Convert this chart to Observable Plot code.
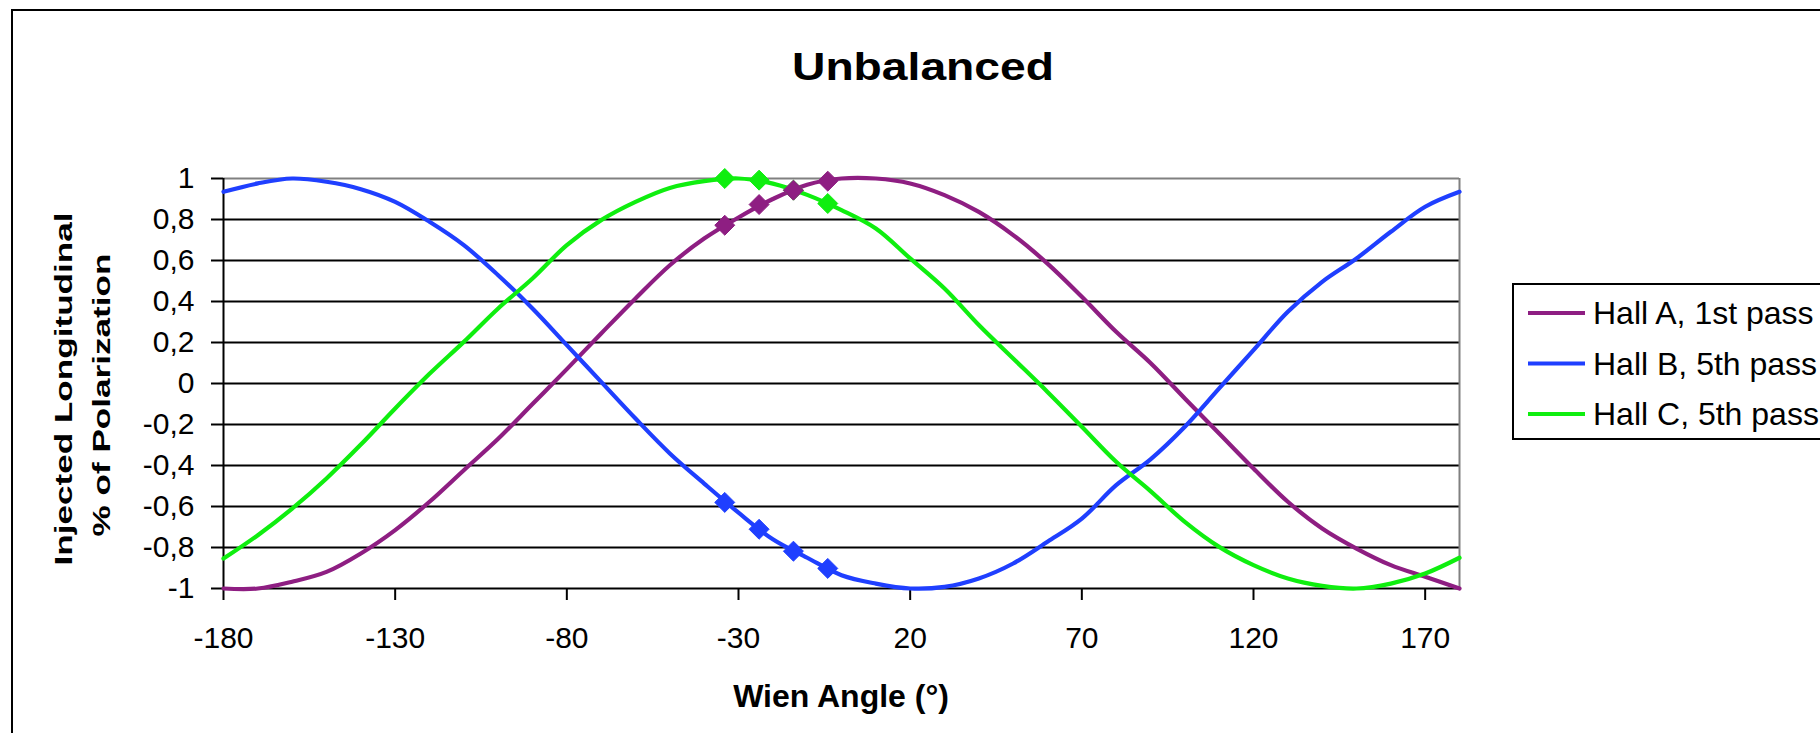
<!DOCTYPE html>
<html>
<head>
<meta charset="utf-8">
<script src="https://cdn.jsdelivr.net/npm/d3@7"></script>
<script src="https://cdn.jsdelivr.net/npm/@observablehq/plot@0.6"></script>
<style>
  html, body { margin: 0; padding: 0; background: #fff; overflow: hidden; }
  #chart svg { display: block; }
</style>
</head>
<body>
<div id="chart"></div>
<script>
// ---- data ----
const angles = [-180,-170,-160,-150,-140,-130,-120,-110,-100,-90,-80,-70,-60,-50,-40,-30,-20,-10,0,10,20,30,40,50,60,70,80,90,100,110,120,130,140,150,160,170,180];
const hallA = [-1.0,-1.0,-0.967,-0.919,-0.829,-0.715,-0.577,-0.423,-0.27,-0.10,0.07,0.244,0.415,0.577,0.707,0.81,0.90,0.97,1.0,1.0,0.976,0.919,0.837,0.724,0.585,0.423,0.252,0.10,-0.073,-0.244,-0.415,-0.577,-0.707,-0.805,-0.886,-0.943,-1.0];
const hallB = [0.935,0.976,1.0,0.984,0.948,0.886,0.789,0.675,0.528,0.366,0.187,0.008,-0.171,-0.341,-0.488,-0.63,-0.76,-0.85,-0.935,-0.976,-1.0,-0.992,-0.951,-0.878,-0.772,-0.659,-0.496,-0.37,-0.211,-0.024,0.163,0.35,0.496,0.61,0.74,0.862,0.935];
const hallC = [-0.854,-0.74,-0.61,-0.463,-0.298,-0.122,0.047,0.203,0.366,0.512,0.675,0.797,0.886,0.954,0.987,1.0,0.975,0.92,0.846,0.756,0.61,0.463,0.285,0.122,-0.041,-0.211,-0.382,-0.525,-0.675,-0.797,-0.886,-0.951,-0.987,-1.0,-0.976,-0.927,-0.85];
const markerAngles = [-34, -24, -14, -4];
const markerA = [0.772, 0.873, 0.943, 0.987];
const markerB = [-0.580, -0.711, -0.818, -0.902];
const markerC = [1.0, 0.992, 0.943, 0.878];
const seriesNames = ["Hall A, 1st pass", "Hall B, 5th pass", "Hall C, 5th pass"];
const xTicks = [-180, -130, -80, -30, 20, 70, 120, 170];
const yTicks = [-1, -0.8, -0.6, -0.4, -0.2, 0, 0.2, 0.4, 0.6, 0.8, 1];
const titleText = "Unbalanced";
const xLabel = "Wien Angle (°)";
const yLabel1 = "Injected Longitudinal";
const yLabel2 = "% of Polarization";

// ---- styles ----
const colors = ["#8e1e82", "#1f3fff", "#0fee0f"];
const FONT = "'Liberation Sans', Arial, Helvetica, sans-serif";

const toRows = (xs, ys) => xs.map((x, i) => ({x, y: ys[i]}));
const lineA = toRows(angles, hallA), lineB = toRows(angles, hallB), lineC = toRows(angles, hallC);
const dotA = toRows(markerAngles, markerA), dotB = toRows(markerAngles, markerB), dotC = toRows(markerAngles, markerC);
const innerTicks = yTicks.filter(t => t > -1 && t < 1);

const svg = Plot.plot({
  width: 1820,
  height: 733,
  marginLeft: 223,
  marginRight: 361,
  marginTop: 178,
  marginBottom: 145,
  x: {domain: [-180, 180]},
  y: {domain: [-1, 1]},
  style: {fontFamily: FONT, fontSize: "30px", color: "black", background: "white", overflow: "visible"},
  marks: [
    Plot.gridY(innerTicks, {stroke: "black", strokeOpacity: 1, strokeWidth: 2}),
    Plot.ruleY([1], {stroke: "#808080", strokeWidth: 2}),
    Plot.ruleX([180], {stroke: "#808080", strokeWidth: 2}),
    Plot.ruleY([-1], {stroke: "black", strokeWidth: 2}),
    Plot.ruleX([-180], {stroke: "black", strokeWidth: 2}),
    Plot.axisY({ticks: yTicks, tickSize: 12, tickPadding: 17, tickFormat: d => String(d).replace(".", ","),
                fontSize: 30, stroke: "black", strokeWidth: 2, label: null}),
    Plot.axisX({ticks: xTicks, tickSize: 12, tickPadding: 26, tickFormat: d => String(d),
                fontSize: 30, stroke: "black", strokeWidth: 2, label: null}),
    Plot.line(lineA, {x: "x", y: "y", stroke: colors[0], strokeWidth: 4.2, curve: "catmull-rom"}),
    Plot.line(lineB, {x: "x", y: "y", stroke: colors[1], strokeWidth: 4.2, curve: "catmull-rom"}),
    Plot.line(lineC, {x: "x", y: "y", stroke: colors[2], strokeWidth: 4.2, curve: "catmull-rom"}),
    Plot.dot(dotC, {x: "x", y: "y", symbol: "diamond2", r: 9, fill: colors[2], stroke: colors[2], strokeWidth: 1}),
    Plot.dot(dotB, {x: "x", y: "y", symbol: "diamond2", r: 9, fill: colors[1], stroke: colors[1], strokeWidth: 1}),
    Plot.dot(dotA, {x: "x", y: "y", symbol: "diamond2", r: 9, fill: colors[0], stroke: colors[0], strokeWidth: 1})
  ]
});

const s = d3.select(svg);

// outer chart border
s.append("rect").attr("x", 12).attr("y", 10).attr("width", 2000).attr("height", 1000)
  .attr("fill", "none").attr("stroke", "black").attr("stroke-width", 2);

// title
s.append("text").attr("x", 923).attr("y", 80).attr("text-anchor", "middle")
  .attr("font-family", FONT).attr("font-weight", "bold").attr("font-size", 39)
  .attr("textLength", 262).attr("lengthAdjust", "spacingAndGlyphs").attr("fill", "black")
  .text(titleText);

// x label
s.append("text").attr("x", 841).attr("y", 707).attr("text-anchor", "middle")
  .attr("font-family", FONT).attr("font-weight", "bold").attr("font-size", 32).attr("fill", "black")
  .text(xLabel);

// y label (two lines)
s.append("text").attr("transform", "translate(72,389) rotate(-90)").attr("text-anchor", "middle")
  .attr("font-family", FONT).attr("font-weight", "bold").attr("font-size", 24)
  .attr("textLength", 353).attr("lengthAdjust", "spacingAndGlyphs").attr("fill", "black")
  .text(yLabel1);
s.append("text").attr("transform", "translate(110,395) rotate(-90)").attr("text-anchor", "middle")
  .attr("font-family", FONT).attr("font-weight", "bold").attr("font-size", 24)
  .attr("textLength", 283).attr("lengthAdjust", "spacingAndGlyphs").attr("fill", "black")
  .text(yLabel2);

// legend
const lg = s.append("g").attr("text-anchor", "start");
lg.append("rect").attr("x", 1513).attr("y", 284).attr("width", 400).attr("height", 155)
  .attr("fill", "white").attr("stroke", "black").attr("stroke-width", 2);
seriesNames.forEach((name, i) => {
  const y = 313 + i * 50.5;
  lg.append("line").attr("x1", 1528).attr("x2", 1585).attr("y1", y).attr("y2", y)
    .attr("stroke", colors[i]).attr("stroke-width", 4);
  lg.append("text").attr("x", 1593).attr("y", y + 11).attr("text-anchor", "start")
    .attr("font-family", FONT).attr("font-size", 32).attr("fill", "black")
    .text(name);
});

document.getElementById("chart").appendChild(svg);
</script>
</body>
</html>
